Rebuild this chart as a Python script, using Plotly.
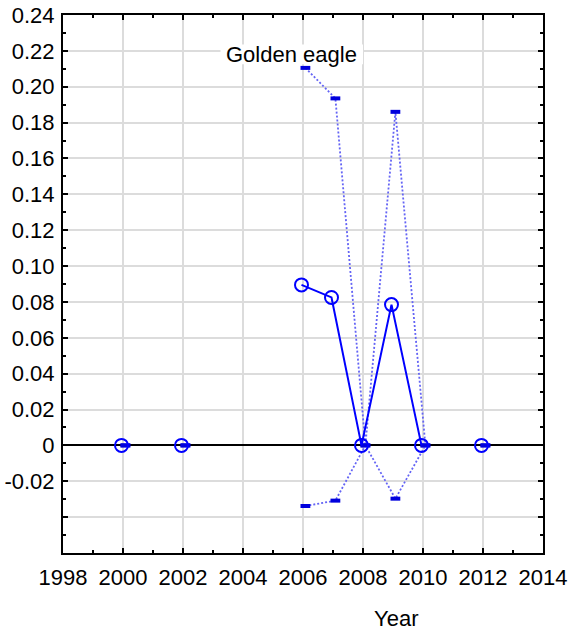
import plotly.graph_objects as go

# yearly estimates for golden eagle (None = no survey that year)
years = [2000, 2001, 2002, 2003, 2004, 2005, 2006, 2007, 2008, 2009, 2010, 2011, 2012]
mean = [0.0, None, 0.0, None, None, None, 0.0895, 0.0825, 0.0, 0.0785, 0.0, None, 0.0]
upper = [0.0, None, 0.0, None, None, None, 0.2105, 0.1935, 0.0, 0.186, 0.0, None, 0.0]
lower = [0.0, None, 0.0, None, None, None, -0.0338, -0.0308, 0.0, -0.0297, 0.0, None, 0.0]

ytick_vals = [0.24, 0.22, 0.20, 0.18, 0.16, 0.14, 0.12, 0.10, 0.08, 0.06, 0.04, 0.02, 0, -0.02, -0.04, -0.06]
ytick_text = ["0.24", "0.22", "0.20", "0.18", "0.16", "0.14", "0.12", "0.10", "0.08", "0.06",
              "0.04", "0.02", "0", "-0.02", "", ""]

ci_x = [y + 0.08 for y in years]
mean_x = [y - 0.05 for y in years]

fig = go.Figure()

for vals in (upper, lower):
  fig.add_trace(go.Scatter(x=ci_x, y=vals, mode="lines+markers",
                line=dict(color="#6464f5", width=1.8, dash="2px,2px"),
                marker=dict(symbol="line-ew", size=7, line=dict(color="#0000dd", width=4)),
                connectgaps=False, showlegend=False))

fig.add_trace(go.Scatter(x=mean_x, y=mean, mode="lines+markers",
              line=dict(color="#0000ff", width=2),
              marker=dict(symbol="circle-open", size=13, line=dict(color="#0000ff", width=2)),
              connectgaps=False, showlegend=False))

# white patch behind the label: hides gridlines but stays under the data
fig.add_shape(type="rect", x0=2003.25, x1=2008.0, y0=0.2125, y1=0.2235, xref="x", yref="y",
              fillcolor="white", line=dict(width=0), layer="between")
fig.add_annotation(x=2005.63, y=0.218, text="Golden eagle", showarrow=False, xref="x", yref="y",
                   font=dict(size=22, color="black"))
fig.add_annotation(x=0.743, y=0.0, xref="paper", yref="paper", yshift=-65, text="Year",
                   showarrow=False, font=dict(size=22, color="black"), yanchor="middle")

fig.update_layout(
  width=575, height=632,
  margin=dict(l=63, r=32, t=15, b=79),
  plot_bgcolor="white", paper_bgcolor="white",
  font=dict(family="Liberation Sans, Arial, sans-serif", size=22, color="black"),
)
fig.update_xaxes(range=[1998, 2014], tickmode="array", tickvals=list(range(1998, 2015, 2)),
                 automargin=False,
                 showgrid=True, gridcolor="#dcdcdc", gridwidth=1.5,
                 showline=True, linecolor="black", linewidth=2, mirror="ticks",
                 ticks="inside", ticklen=5, tickcolor="black", tickwidth=1.5,
                 ticklabelstandoff=4, zeroline=False,
                 minor=dict(ticks="inside", dtick=1, ticklen=3, tickcolor="black", showgrid=False))
fig.update_yaxes(range=[-0.06, 0.24], tickmode="array", tickvals=ytick_vals, ticktext=ytick_text,
                 automargin=False,
                 showgrid=True, gridcolor="#dcdcdc", gridwidth=1.5,
                 showline=True, linecolor="black", linewidth=2, mirror="ticks",
                 ticks="inside", ticklen=5, tickcolor="black", tickwidth=1.5,
                 ticklabelstandoff=2,
                 zeroline=True, zerolinecolor="black", zerolinewidth=2,
                 minor=dict(ticks="inside", dtick=0.01, tick0=0, ticklen=3, tickcolor="black", showgrid=False))

# drop the browser's default body margin so the figure sits at the page corner
fig.write_html("out.html", config={"displayModeBar": False},
               post_script="document.body.style.margin = '0';")
